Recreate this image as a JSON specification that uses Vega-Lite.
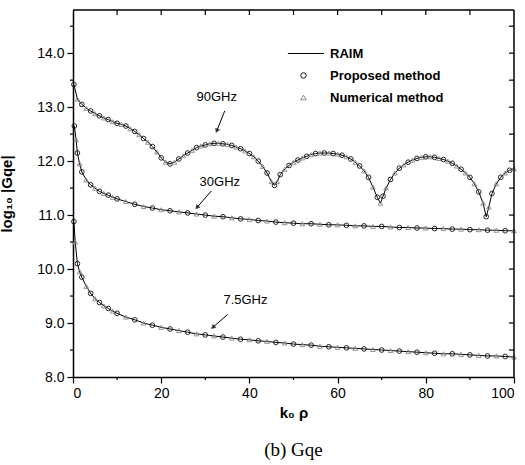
{
"$schema": "https://vega.github.io/schema/vega-lite/v6.json",
"width": 441, "height": 367,
"autosize": "none",
"padding": {"left": 73, "top": 10, "right": 11, "bottom": 88},
"background": "white",
"config": {
 "font": "Liberation Sans",
 "view": {"stroke": null},
 "axis": {"grid": false, "domainColor": "black", "domainWidth": 1.5, "tickColor": "black", "tickWidth": 1.2, "labelColor": "black", "titleColor": "black", "labelFont": "Liberation Sans", "labelFontSize": 14, "titleFont": "Liberation Sans", "titleFontSize": 15, "titleFontWeight": "bold"},
 "legend": {"labelFont": "Liberation Sans", "labelFontSize": 13, "labelFontWeight": "bold", "labelColor": "black"}
},
"title": {"text": "(b)       Gqe", "orient": "bottom", "anchor": "middle", "font": "Liberation Serif", "fontSize": 19, "fontWeight": "normal", "color": "black", "offset": 21},
"datasets": {
"c": [
{"s":"90","k":0.2,"v":13.42,"m":"P"},{"s":"90","k":1,"v":13.15,"m":"N"},{"s":"90","k":2,"v":13.05,"m":"P"},{"s":"90","k":3,"v":12.98,"m":"N"},{"s":"90","k":4,"v":12.93,"m":"P"},{"s":"90","k":5,"v":12.88,"m":"N"},{"s":"90","k":6,"v":12.84,"m":"P"},{"s":"90","k":7,"v":12.8,"m":"N"},{"s":"90","k":8,"v":12.77,"m":"P"},{"s":"90","k":9,"v":12.73,"m":"N"},
{"s":"90","k":10,"v":12.7,"m":"P"},{"s":"90","k":11,"v":12.68,"m":"N"},{"s":"90","k":12,"v":12.65,"m":"P"},{"s":"90","k":13,"v":12.6,"m":"N"},{"s":"90","k":14,"v":12.55,"m":"P"},{"s":"90","k":15,"v":12.49,"m":"N"},{"s":"90","k":16,"v":12.42,"m":"P"},{"s":"90","k":17,"v":12.35,"m":"N"},{"s":"90","k":18,"v":12.27,"m":"P"},{"s":"90","k":19,"v":12.17,"m":"N"},
{"s":"90","k":20,"v":12.06,"m":"P"},{"s":"90","k":21,"v":11.98,"m":"N"},{"s":"90","k":22,"v":11.95,"m":"P"},{"s":"90","k":23,"v":11.98,"m":"N"},{"s":"90","k":24,"v":12.04,"m":"P"},{"s":"90","k":25,"v":12.1,"m":"N"},{"s":"90","k":26,"v":12.15,"m":"P"},{"s":"90","k":27,"v":12.2,"m":"N"},{"s":"90","k":28,"v":12.25,"m":"P"},{"s":"90","k":29,"v":12.28,"m":"N"},
{"s":"90","k":30,"v":12.3,"m":"P"},{"s":"90","k":31,"v":12.32,"m":"N"},{"s":"90","k":32,"v":12.33,"m":"P"},{"s":"90","k":33,"v":12.33,"m":"N"},{"s":"90","k":34,"v":12.32,"m":"P"},{"s":"90","k":35,"v":12.31,"m":"N"},{"s":"90","k":36,"v":12.29,"m":"P"},{"s":"90","k":37,"v":12.26,"m":"N"},{"s":"90","k":38,"v":12.23,"m":"P"},{"s":"90","k":39,"v":12.19,"m":"N"},
{"s":"90","k":40,"v":12.14,"m":"P"},{"s":"90","k":41,"v":12.08,"m":"N"},{"s":"90","k":42,"v":12.0,"m":"P"},{"s":"90","k":43,"v":11.9,"m":"N"},{"s":"90","k":44,"v":11.78,"m":"P"},{"s":"90","k":45,"v":11.62,"m":"N"},{"s":"90","k":45.7,"v":11.55,"m":"P"},{"s":"90","k":46.3,"v":11.62,"m":"N"},{"s":"90","k":47,"v":11.75,"m":"P"},{"s":"90","k":48,"v":11.85,"m":"N"},{"s":"90","k":49,"v":11.92,"m":"P"},
{"s":"90","k":50,"v":11.98,"m":"N"},{"s":"90","k":51,"v":12.02,"m":"P"},{"s":"90","k":52,"v":12.06,"m":"N"},{"s":"90","k":53,"v":12.09,"m":"P"},{"s":"90","k":54,"v":12.12,"m":"N"},{"s":"90","k":55,"v":12.14,"m":"P"},{"s":"90","k":56,"v":12.15,"m":"N"},{"s":"90","k":57,"v":12.15,"m":"P"},{"s":"90","k":58,"v":12.15,"m":"N"},{"s":"90","k":59,"v":12.14,"m":"P"},
{"s":"90","k":60,"v":12.13,"m":"N"},{"s":"90","k":61,"v":12.11,"m":"P"},{"s":"90","k":62,"v":12.08,"m":"N"},{"s":"90","k":63,"v":12.04,"m":"P"},{"s":"90","k":64,"v":11.98,"m":"N"},{"s":"90","k":65,"v":11.91,"m":"P"},{"s":"90","k":66,"v":11.82,"m":"N"},{"s":"90","k":67,"v":11.7,"m":"P"},{"s":"90","k":68,"v":11.52,"m":"N"},{"s":"90","k":69,"v":11.33,"m":"P"},{"s":"90","k":69.7,"v":11.22,"m":"N"},
{"s":"90","k":70.3,"v":11.35,"m":"P"},{"s":"90","k":71,"v":11.5,"m":"N"},{"s":"90","k":72,"v":11.66,"m":"P"},{"s":"90","k":73,"v":11.78,"m":"N"},{"s":"90","k":74,"v":11.87,"m":"P"},{"s":"90","k":75,"v":11.93,"m":"N"},{"s":"90","k":76,"v":11.98,"m":"P"},{"s":"90","k":77,"v":12.02,"m":"N"},{"s":"90","k":78,"v":12.05,"m":"P"},{"s":"90","k":79,"v":12.07,"m":"N"},
{"s":"90","k":80,"v":12.08,"m":"P"},{"s":"90","k":81,"v":12.08,"m":"N"},{"s":"90","k":82,"v":12.07,"m":"P"},{"s":"90","k":83,"v":12.05,"m":"N"},{"s":"90","k":84,"v":12.03,"m":"P"},{"s":"90","k":85,"v":12.0,"m":"N"},{"s":"90","k":86,"v":11.96,"m":"P"},{"s":"90","k":87,"v":11.91,"m":"N"},{"s":"90","k":88,"v":11.85,"m":"P"},{"s":"90","k":89,"v":11.78,"m":"N"},
{"s":"90","k":90,"v":11.7,"m":"P"},{"s":"90","k":91,"v":11.58,"m":"N"},{"s":"90","k":92,"v":11.43,"m":"P"},{"s":"90","k":93,"v":11.22,"m":"N"},{"s":"90","k":93.7,"v":10.97,"m":"P"},{"s":"90","k":94.3,"v":11.15,"m":"N"},{"s":"90","k":95,"v":11.4,"m":"P"},{"s":"90","k":96,"v":11.58,"m":"N"},{"s":"90","k":97,"v":11.7,"m":"P"},{"s":"90","k":98,"v":11.78,"m":"N"},{"s":"90","k":99,"v":11.83,"m":"P"},{"s":"90","k":100,"v":11.86,"m":"N"},
{"s":"30","k":0.3,"v":12.65,"m":"P"},{"s":"30","k":0.7,"v":12.4,"m":"N"},{"s":"30","k":1,"v":12.15,"m":"P"},{"s":"30","k":1.5,"v":11.95,"m":"N"},{"s":"30","k":2,"v":11.8,"m":"P"},{"s":"30","k":3,"v":11.65,"m":"N"},{"s":"30","k":4,"v":11.56,"m":"P"},{"s":"30","k":5,"v":11.5,"m":"N"},{"s":"30","k":6,"v":11.44,"m":"P"},{"s":"30","k":7,"v":11.4,"m":"N"},{"s":"30","k":8,"v":11.37,"m":"P"},{"s":"30","k":9,"v":11.33,"m":"N"},
{"s":"30","k":10,"v":11.3,"m":"P"},{"s":"30","k":12,"v":11.25,"m":"N"},{"s":"30","k":14,"v":11.2,"m":"P"},{"s":"30","k":16,"v":11.16,"m":"N"},{"s":"30","k":18,"v":11.13,"m":"P"},{"s":"30","k":20,"v":11.1,"m":"N"},{"s":"30","k":22,"v":11.08,"m":"P"},{"s":"30","k":24,"v":11.06,"m":"N"},{"s":"30","k":26,"v":11.04,"m":"P"},{"s":"30","k":28,"v":11.02,"m":"N"},
{"s":"30","k":30,"v":11.0,"m":"P"},{"s":"30","k":32,"v":10.98,"m":"N"},{"s":"30","k":34,"v":10.97,"m":"P"},{"s":"30","k":36,"v":10.95,"m":"N"},{"s":"30","k":38,"v":10.93,"m":"P"},{"s":"30","k":40,"v":10.92,"m":"N"},{"s":"30","k":42,"v":10.9,"m":"P"},{"s":"30","k":44,"v":10.89,"m":"N"},{"s":"30","k":46,"v":10.87,"m":"P"},{"s":"30","k":48,"v":10.86,"m":"N"},
{"s":"30","k":50,"v":10.85,"m":"P"},{"s":"30","k":52,"v":10.84,"m":"N"},{"s":"30","k":54,"v":10.84,"m":"P"},{"s":"30","k":56,"v":10.83,"m":"N"},{"s":"30","k":58,"v":10.82,"m":"P"},{"s":"30","k":60,"v":10.82,"m":"N"},{"s":"30","k":62,"v":10.81,"m":"P"},{"s":"30","k":64,"v":10.8,"m":"N"},{"s":"30","k":66,"v":10.8,"m":"P"},{"s":"30","k":68,"v":10.79,"m":"N"},
{"s":"30","k":70,"v":10.79,"m":"P"},{"s":"30","k":72,"v":10.78,"m":"N"},{"s":"30","k":74,"v":10.77,"m":"P"},{"s":"30","k":76,"v":10.77,"m":"N"},{"s":"30","k":78,"v":10.76,"m":"P"},{"s":"30","k":80,"v":10.76,"m":"N"},{"s":"30","k":82,"v":10.75,"m":"P"},{"s":"30","k":84,"v":10.75,"m":"N"},{"s":"30","k":86,"v":10.74,"m":"P"},{"s":"30","k":88,"v":10.74,"m":"N"},
{"s":"30","k":90,"v":10.73,"m":"P"},{"s":"30","k":92,"v":10.73,"m":"N"},{"s":"30","k":94,"v":10.72,"m":"P"},{"s":"30","k":96,"v":10.72,"m":"N"},{"s":"30","k":98,"v":10.71,"m":"P"},{"s":"30","k":100,"v":10.71,"m":"N"},
{"s":"7.5","k":0.2,"v":10.88,"m":"P"},{"s":"7.5","k":0.5,"v":10.5,"m":"N"},{"s":"7.5","k":1,"v":10.1,"m":"P"},{"s":"7.5","k":1.5,"v":9.95,"m":"N"},{"s":"7.5","k":2,"v":9.85,"m":"P"},{"s":"7.5","k":3,"v":9.68,"m":"N"},{"s":"7.5","k":4,"v":9.55,"m":"P"},{"s":"7.5","k":5,"v":9.45,"m":"N"},{"s":"7.5","k":6,"v":9.38,"m":"P"},{"s":"7.5","k":7,"v":9.32,"m":"N"},{"s":"7.5","k":8,"v":9.27,"m":"P"},{"s":"7.5","k":9,"v":9.22,"m":"N"},
{"s":"7.5","k":10,"v":9.18,"m":"P"},{"s":"7.5","k":12,"v":9.11,"m":"N"},{"s":"7.5","k":14,"v":9.06,"m":"P"},{"s":"7.5","k":16,"v":9.0,"m":"N"},{"s":"7.5","k":18,"v":8.96,"m":"P"},{"s":"7.5","k":20,"v":8.92,"m":"N"},{"s":"7.5","k":22,"v":8.89,"m":"P"},{"s":"7.5","k":24,"v":8.86,"m":"N"},{"s":"7.5","k":26,"v":8.83,"m":"P"},{"s":"7.5","k":28,"v":8.8,"m":"N"},
{"s":"7.5","k":30,"v":8.78,"m":"P"},{"s":"7.5","k":32,"v":8.76,"m":"N"},{"s":"7.5","k":34,"v":8.74,"m":"P"},{"s":"7.5","k":36,"v":8.72,"m":"N"},{"s":"7.5","k":38,"v":8.7,"m":"P"},{"s":"7.5","k":40,"v":8.69,"m":"N"},{"s":"7.5","k":42,"v":8.67,"m":"P"},{"s":"7.5","k":44,"v":8.66,"m":"N"},{"s":"7.5","k":46,"v":8.64,"m":"P"},{"s":"7.5","k":48,"v":8.63,"m":"N"},
{"s":"7.5","k":50,"v":8.61,"m":"P"},{"s":"7.5","k":52,"v":8.6,"m":"N"},{"s":"7.5","k":54,"v":8.59,"m":"P"},{"s":"7.5","k":56,"v":8.57,"m":"N"},{"s":"7.5","k":58,"v":8.56,"m":"P"},{"s":"7.5","k":60,"v":8.55,"m":"N"},{"s":"7.5","k":62,"v":8.54,"m":"P"},{"s":"7.5","k":64,"v":8.53,"m":"N"},{"s":"7.5","k":66,"v":8.52,"m":"P"},{"s":"7.5","k":68,"v":8.51,"m":"N"},
{"s":"7.5","k":70,"v":8.5,"m":"P"},{"s":"7.5","k":72,"v":8.49,"m":"N"},{"s":"7.5","k":74,"v":8.48,"m":"P"},{"s":"7.5","k":76,"v":8.47,"m":"N"},{"s":"7.5","k":78,"v":8.46,"m":"P"},{"s":"7.5","k":80,"v":8.45,"m":"N"},{"s":"7.5","k":82,"v":8.44,"m":"P"},{"s":"7.5","k":84,"v":8.43,"m":"N"},{"s":"7.5","k":86,"v":8.43,"m":"P"},{"s":"7.5","k":88,"v":8.42,"m":"N"},
{"s":"7.5","k":90,"v":8.41,"m":"P"},{"s":"7.5","k":92,"v":8.4,"m":"N"},{"s":"7.5","k":94,"v":8.39,"m":"P"},{"s":"7.5","k":96,"v":8.39,"m":"N"},{"s":"7.5","k":98,"v":8.38,"m":"P"},{"s":"7.5","k":100,"v":8.37,"m":"N"}
],
"ann": [
{"id":"90","t":"90GHz","k":32.6,"v":13.19,"k1":34.4,"v1":12.93,"k2":32.6,"v2":12.56},
{"id":"30","t":"30GHz","k":33.3,"v":11.62,"k1":31.4,"v1":11.45,"k2":28.1,"v2":11.14},
{"id":"7.5","t":"7.5GHz","k":39.1,"v":9.42,"k1":35.1,"v1":9.16,"k2":31.7,"v2":8.92}
],
"frame": [
{"k1":0,"v1":14.8,"k2":100,"v2":14.8},
{"k1":100,"v1":8,"k2":100,"v2":14.8}
],
"tx": [{"t":10,"e":14.8,"b":8},{"t":20,"e":14.8,"b":8},{"t":30,"e":14.8,"b":8},{"t":40,"e":14.8,"b":8},{"t":50,"e":14.8,"b":8},{"t":60,"e":14.8,"b":8},{"t":70,"e":14.8,"b":8},{"t":80,"e":14.8,"b":8},{"t":90,"e":14.8,"b":8}],
"ty": [{"t":8.5,"e":100,"b":0},{"t":9,"e":100,"b":0},{"t":9.5,"e":100,"b":0},{"t":10,"e":100,"b":0},{"t":10.5,"e":100,"b":0},{"t":11,"e":100,"b":0},{"t":11.5,"e":100,"b":0},{"t":12,"e":100,"b":0},{"t":12.5,"e":100,"b":0},{"t":13,"e":100,"b":0},{"t":13.5,"e":100,"b":0},{"t":14,"e":100,"b":0},{"t":14.5,"e":100,"b":0}]
},
"layer": [
 {"data": {"name": "c"},
  "mark": {"type": "line", "color": "black", "strokeWidth": 1},
  "encoding": {
   "x": {"field": "k", "type": "quantitative", "scale": {"domain": [0, 100], "nice": false}, "axis": {"orient": "bottom", "values": [0,20,40,60,80,100], "tickSize": 6, "labelPadding": 3, "title": "k₀ ρ", "titlePadding": 5}},
   "y": {"field": "v", "type": "quantitative", "scale": {"domain": [8, 14.8], "nice": false, "zero": false}, "axis": {"orient": "left", "values": [8,9,10,11,12,13,14], "tickSize": 6, "labelPadding": 3, "title": "log₁₀ |Gqe|", "titlePadding": 22}},
   "detail": {"field": "s"}
  }},
 {"data": {"name": "c"},
  "mark": {"type": "point", "filled": false, "size": 22, "strokeWidth": 0.9, "opacity": 1},
  "encoding": {
   "x": {"field": "k", "type": "quantitative"},
   "y": {"field": "v", "type": "quantitative"},
   "shape": {"field": "m", "type": "nominal", "scale": {"domain": ["R","P","N"], "range": ["M-5.7,0L7.5,0", "circle", "triangle-up"]},
     "legend": {"title": null, "orient": "none", "legendX": 224, "legendY": 37, "symbolSize": 30, "symbolStrokeWidth": 1, "labelOffset": 20, "rowPadding": 8, "labelExpr": "datum.label == 'R' ? 'RAIM' : datum.label == 'P' ? 'Proposed method' : 'Numerical method'"}},
   "color": {"field": "m", "type": "nominal", "scale": {"domain": ["R","P","N"], "range": ["#000000", "#111111", "#888888"]},
     "legend": {"title": null, "orient": "none", "legendX": 224, "legendY": 37, "symbolSize": 30, "symbolStrokeWidth": 1, "labelOffset": 20, "rowPadding": 8, "labelExpr": "datum.label == 'R' ? 'RAIM' : datum.label == 'P' ? 'Proposed method' : 'Numerical method'"}}
  }},
 {"data": {"name": "frame"},
  "mark": {"type": "rule", "color": "black", "strokeWidth": 1.5},
  "encoding": {
   "x": {"field": "k1", "type": "quantitative"},
   "y": {"field": "v1", "type": "quantitative"},
   "x2": {"field": "k2"},
   "y2": {"field": "v2"}
  }},
 {"data": {"name": "tx"},
  "mark": {"type": "tick", "orient": "vertical", "size": 5, "thickness": 1.2, "yOffset": 2.5, "color": "black", "opacity": 1},
  "encoding": {"x": {"field": "t", "type": "quantitative"}, "y": {"field": "e", "type": "quantitative"}}},
 {"data": {"name": "ty"},
  "mark": {"type": "tick", "orient": "horizontal", "size": 5, "thickness": 1.2, "xOffset": -2.5, "color": "black", "opacity": 1},
  "encoding": {"y": {"field": "t", "type": "quantitative"}, "x": {"field": "e", "type": "quantitative"}}},
 {"data": {"name": "tx"}, "transform": [{"filter": "datum.t % 20 != 0"}],
  "mark": {"type": "tick", "orient": "vertical", "size": 3, "thickness": 1.2, "yOffset": 1.5, "color": "black", "opacity": 1},
  "encoding": {"x": {"field": "t", "type": "quantitative"}, "y": {"field": "b", "type": "quantitative"}}},
 {"data": {"name": "ty"}, "transform": [{"filter": "datum.t % 1 != 0"}],
  "mark": {"type": "tick", "orient": "horizontal", "size": 3, "thickness": 1.2, "xOffset": -1.5, "color": "black", "opacity": 1},
  "encoding": {"y": {"field": "t", "type": "quantitative"}, "x": {"field": "b", "type": "quantitative"}}},
 {"data": {"name": "ann"},
  "mark": {"type": "text", "fontSize": 13, "color": "black"},
  "encoding": {
   "x": {"field": "k", "type": "quantitative"},
   "y": {"field": "v", "type": "quantitative"},
   "text": {"field": "t"}
  }},
 {"data": {"name": "ann"},
  "mark": {"type": "rule", "color": "black", "strokeWidth": 1},
  "encoding": {
   "x": {"field": "k1", "type": "quantitative"},
   "y": {"field": "v1", "type": "quantitative"},
   "x2": {"field": "k2"},
   "y2": {"field": "v2"}
  }},
 {"data": {"name": "ann"}, "transform": [{"filter": "datum.id == '90'"}],
  "mark": {"type": "point", "shape": "triangle-up", "filled": true, "color": "black", "size": 30, "angle": 202},
  "encoding": {"x": {"field": "k2", "type": "quantitative"}, "y": {"field": "v2", "type": "quantitative"}}},
 {"data": {"name": "ann"}, "transform": [{"filter": "datum.id == '30'"}],
  "mark": {"type": "point", "shape": "triangle-up", "filled": true, "color": "black", "size": 30, "angle": 221},
  "encoding": {"x": {"field": "k2", "type": "quantitative"}, "y": {"field": "v2", "type": "quantitative"}}},
 {"data": {"name": "ann"}, "transform": [{"filter": "datum.id == '7.5'"}],
  "mark": {"type": "point", "shape": "triangle-up", "filled": true, "color": "black", "size": 30, "angle": 229},
  "encoding": {"x": {"field": "k2", "type": "quantitative"}, "y": {"field": "v2", "type": "quantitative"}}}
]
}
